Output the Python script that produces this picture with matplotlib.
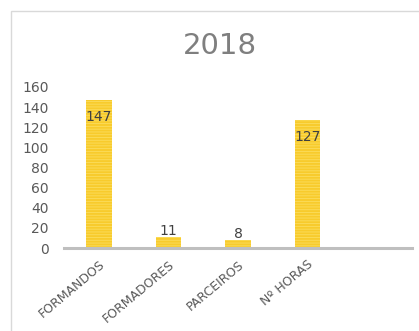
import matplotlib
matplotlib.use("Agg")
import matplotlib.pyplot as plt
from matplotlib.patches import Rectangle

categories = ["FORMANDOS", "FORMADORES", "PARCEIROS", "Nº HORAS", ""]
values = [147, 11, 8, 127, None]
inside = [True, False, False, True]
yticks = [0, 20, 40, 60, 80, 100, 120, 140, 160]

BAR, HATCH = "#F8CB2C", "#FBDD5E"
INK, MUTED, AXIS = "#404040", "#595959", "#BFBFBF"

plt.rcParams["font.family"] = "DejaVu Sans"
plt.rcParams["hatch.linewidth"] = 0.6

fig = plt.figure(figsize=(4.19, 3.31), dpi=100)
fig.patches.append(Rectangle((11 / 419, -0.1), 1.2, 1 - 11 / 331 + 0.1,
                             transform=fig.transFigure, fill=False,
                             edgecolor="#D9D9D9", lw=1.0))
ax = fig.add_axes([64 / 419, 1 - 248 / 331, 348 / 419, 161 / 331])

xs = list(range(len(categories)))
vals = [v for v in values if v is not None]
bars = ax.bar(xs[:len(vals)], vals, width=0.37, color=BAR,
              edgecolor=HATCH, linewidth=0, hatch="------", zorder=2)

# étiquettes de données : dedans pour les grandes barres, dessus sinon
for b, v, ins in zip(bars, vals, inside):
    cx = b.get_x() + b.get_width() / 2
    if ins:
        ax.annotate(str(v), (cx, v), xytext=(0, -7), textcoords="offset points",
                    ha="center", va="top", fontsize=10, color=INK)
    else:
        ax.annotate(str(v), (cx, v), xytext=(0, -1), textcoords="offset points",
                    ha="center", va="bottom", fontsize=10, color=INK)

ax.set_xlim(-0.5, len(categories) - 0.5)
ax.set_ylim(0, 160)
ax.set_yticks(yticks)
ax.set_xticks(xs)
ax.set_xticklabels(categories, rotation=40, ha="right", rotation_mode="anchor",
                   fontsize=9, color=MUTED)
ax.tick_params(axis="x", length=0, pad=7)
ax.tick_params(axis="y", length=0, pad=11, labelsize=10, labelcolor=MUTED)
for s in ["top", "right", "left"]:
    ax.spines[s].set_visible(False)
ax.spines["bottom"].set_color(AXIS)
ax.spines["bottom"].set_linewidth(2.2)

fig.text(0.525, 1 - 46 / 331, "2018", ha="center", va="center",
         fontsize=21, color="#7F7F7F")

fig.savefig("out.png", dpi=100)
